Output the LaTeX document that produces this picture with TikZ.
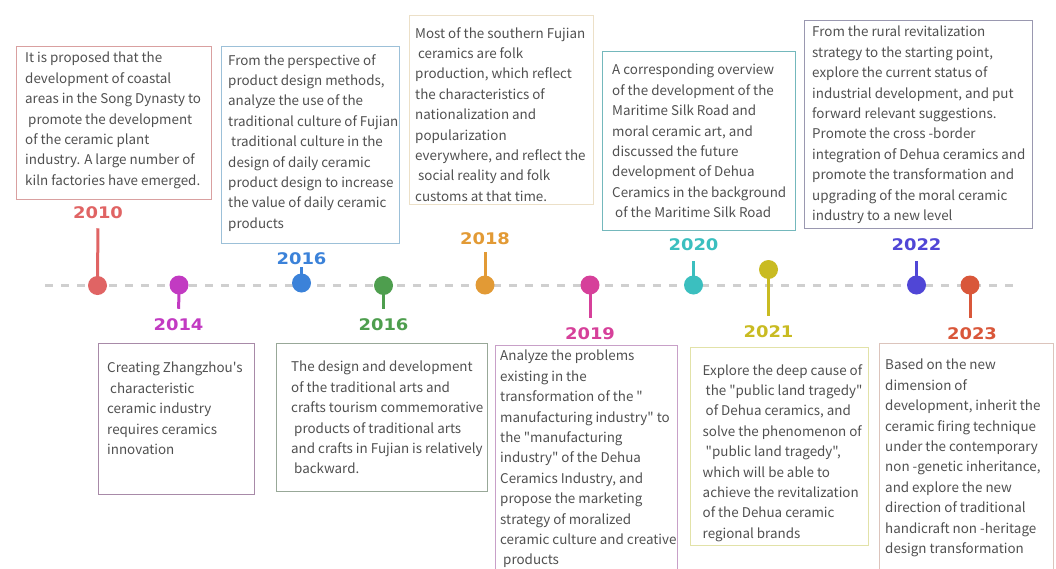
\documentclass[tikz,border=0pt]{standalone}
\usepackage{fontspec}
\setmainfont{Noto Sans CJK SC}[Ligatures=TeXOff]
\newfontfamily\yearfont[FakeStretch=1.12]{DejaVu Sans}
\usepackage{tikz}

\definecolor{ink}{HTML}{505050}
\definecolor{dashgray}{HTML}{CFCFCF}
\definecolor{c10}{HTML}{E06464}
\definecolor{c14}{HTML}{C23AC2}
\definecolor{c16a}{HTML}{3B82D9}
\definecolor{c16b}{HTML}{4E9E4E}
\definecolor{c18}{HTML}{E29A35}
\definecolor{c19}{HTML}{D6409A}
\definecolor{c20}{HTML}{3BBFBF}
\definecolor{c21}{HTML}{C9BB22}
\definecolor{c22}{HTML}{5046D6}
\definecolor{c23}{HTML}{D9573A}
% box borders
\definecolor{b10}{HTML}{D9A0A0}
\definecolor{b16a}{HTML}{9CC0D8}
\definecolor{b18}{HTML}{ECE0C8}
\definecolor{b20}{HTML}{74B8BC}
\definecolor{b22}{HTML}{9A98B0}
\definecolor{b14}{HTML}{A88AA8}
\definecolor{b16b}{HTML}{98A898}
\definecolor{b19}{HTML}{C8A0C8}
\definecolor{b21}{HTML}{E2E2A8}
\definecolor{b23}{HTML}{DCC4BC}

\begin{document}
\begin{tikzpicture}[x=1pt, y=-1pt,
  frame/.style={draw=#1, line width=1.2pt, anchor=north west, inner sep=0pt},
  txt/.style={anchor=north west, inner sep=0pt, align=left, text=ink,
    font=\fontsize{13.4}{20.4}\selectfont},
  dot/.style={circle, fill=#1, inner sep=0pt, minimum size=19pt},
  stem/.style={draw=#1, line width=3pt},
  year/.style={text=#1, inner sep=0pt, font=\yearfont\bfseries\fontsize{16}{16}\selectfont}]
  \useasboundingbox (0,0) rectangle (1056,568);

  % timeline
  \coordinate (tlstart) at (45,285);
  \coordinate (tlend) at (1013,285);
  \draw[dashgray, line width=3pt, dash pattern=on 8pt off 8pt] (tlstart) -- (tlend);

  % boxes above the line
  \node[frame=b10, minimum width=195, minimum height=153] (f10) at (16,45.5) {};
  \node[frame=b16a, minimum width=178, minimum height=197] (f16a) at (221,45.5) {};
  \node[frame=b18, minimum width=184, minimum height=189] (f18) at (408.5,15) {};
  \node[frame=b20, minimum width=193, minimum height=179] (f20) at (602,50.5) {};
  \node[frame=b22, minimum width=228, minimum height=208] (f22) at (804,20) {};

  % boxes below the line
  \node[frame=b14, minimum width=156, minimum height=151] (f14) at (98,343) {};
  \node[frame=b16b, minimum width=211, minimum height=148] (f16b) at (276,343) {};
  \node[frame=b19, minimum width=182, minimum height=240] (f19) at (495,345) {};
  \node[frame=b21, minimum width=178, minimum height=198] (f21) at (689.5,346.5) {};
  \node[frame=b23, minimum width=174, minimum height=240] (f23) at (878.5,343) {};

  % texts
  \node[txt] (t10) at (25,52) {It is proposed that the\\development of coastal\\areas in the Song Dynasty to\\\ promote the development\\of the ceramic plant\\industry. A large number of\\kiln factories have emerged.};
  \node[txt] (t16a) at (228,54) {From the perspective of\\product design methods,\\analyze the use of the\\traditional culture of Fujian\\\ traditional culture in the\\design of daily ceramic\\product design to increase\\the value of daily ceramic\\products};
  \node[txt] (t18) at (415,27) {Most of the southern Fujian\\\ ceramics are folk\\production, which reflect\\the characteristics of\\nationalization and\\popularization\\everywhere, and reflect the\\\ social reality and folk\\customs at that time.};
  \node[txt] (t20) at (612,64) {A corresponding overview\\of the development of the\\Maritime Silk Road and\\moral ceramic art, and\\discussed the future\\development of Dehua\\Ceramics in the background\\\ of the Maritime Silk Road};
  \node[txt] (t22) at (812,26) {From the rural revitalization\\strategy to the starting point,\\explore the current status of\\industrial development, and put\\forward relevant suggestions.\\Promote the cross -border\\integration of Dehua ceramics and\\promote the transformation and\\upgrading of the moral ceramic\\industry to a new level};
  \node[txt] (t14) at (107,362) {Creating Zhangzhou's\\\ characteristic\\ceramic industry\\requires ceramics\\innovation};
  \node[txt] (t16b) at (291,361) {The design and development\\of the traditional arts and\\crafts tourism commemorative\\\ products of traditional arts\\and crafts in Fujian is relatively\\\ backward.};
  \node[txt] (t19) at (500,350) {Analyze the problems\\existing in the\\transformation of the "\\manufacturing industry" to\\the "manufacturing\\industry" of the Dehua\\Ceramics Industry, and\\propose the marketing\\strategy of moralized\\ceramic culture and creative\\\ products};
  \node[txt] (t21) at (702.5,364) {Explore the deep cause of\\\ the "public land tragedy"\\\ of Dehua ceramics, and\\solve the phenomenon of\\\ "public land tragedy",\\which will be able to\\achieve the revitalization\\of the Dehua ceramic\\regional brands};
  \node[txt] (t23) at (885,359) {Based on the new\\dimension of\\development, inherit the\\ceramic firing technique\\under the contemporary\\non -genetic inheritance,\\and explore the new\\direction of traditional\\handicraft non -heritage\\design transformation};

  % years
  \node[year=c10] (y10) at (98,213) {2010};
  \node[year=c14] (y14) at (178.5,325) {2014};
  \node[year=c16a] (y16a) at (301.5,259) {2016};
  \node[year=c16b] (y16b) at (383.5,325) {2016};
  \node[year=c18] (y18) at (485,239) {2018};
  \node[year=c19] (y19) at (590,333.5) {2019};
  \node[year=c20] (y20) at (693.5,245) {2020};
  \node[year=c21] (y21) at (768.5,331.5) {2021};
  \node[year=c22] (y22) at (916.5,245) {2022};
  \node[year=c23] (y23) at (972,333.5) {2023};

  % dots
  \node[dot=c10] (d10) at (97.5,285.5) {};
  \node[dot=c14] (d14) at (179,285) {};
  \node[dot=c16a] (d16a) at (301.5,283) {};
  \node[dot=c16b] (d16b) at (383.5,285.5) {};
  \node[dot=c18] (d18) at (485,285) {};
  \node[dot=c19] (d19) at (590,285) {};
  \node[dot=c20] (d20) at (693.5,285) {};
  \node[dot=c21] (d21) at (768.5,269.5) {};
  \node[dot=c22] (d22) at (916.5,285) {};
  \node[dot=c23] (d23) at (970,285) {};

  % stems
  \draw[stem=c10, shorten >=9pt] (d10.center) -- (y10.south);
  \draw[stem=c14, shorten >=10pt] (d14.center) -- (y14.north);
  \draw[stem=c16a, shorten >=2pt] (d16a.center) -- (y16a.south);
  \draw[stem=c16b, shorten >=10pt] (d16b.center) -- (y16b.north);
  \draw[stem=c18, shorten >=7pt] (d18.center) -- (y18.south);
  \draw[stem=c19, shorten >=9pt] (d19.center) -- (y19.north);
  \draw[stem=c20, shorten >=10pt] (d20.center) -- (y20.south);
  \draw[stem=c21, shorten >=9pt] (d21.center) -- (y21.north);
  \draw[stem=c22, shorten >=10pt] (d22.center) -- (y22.south);
  \draw[stem=c23, shorten >=9pt] (d23.center) -- (d23 |- y23.north);
\end{tikzpicture}
\end{document}
